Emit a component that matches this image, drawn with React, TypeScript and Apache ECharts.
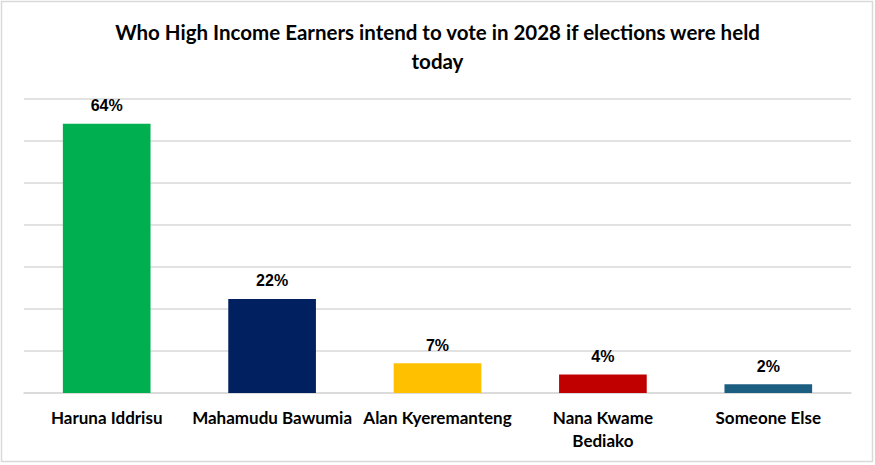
import { useEffect, useRef } from "react";
import * as echarts from "echarts";

const TITLE =
  "Who High Income Earners intend to vote in 2028 if elections were held\ntoday";
const categories = [
  "Haruna Iddrisu",
  "Mahamudu Bawumia",
  "Alan Kyeremanteng",
  "Nana Kwame\nBediako",
  "Someone Else",
];
const values = [64.1, 22.4, 7.1, 4.4, 2.1];
const colors = ["#00B050", "#002060", "#FFC000", "#C00000", "#1B5E82"];

const FONT = "Lato, 'Open Sans', sans-serif";
const VALUE_FONT = "'Liberation Sans', Arial, sans-serif";

export default function App() {
  const ref = useRef<HTMLDivElement | null>(null);

  useEffect(() => {
    document.body.style.margin = "0";
    if (!ref.current) return;
    const chart = echarts.init(ref.current, undefined, { renderer: "svg" });

    chart.setOption({
      animation: false,
      backgroundColor: "#ffffff",
      title: {
        text: TITLE,
        left: "center",
        top: 12,
        textStyle: {
          fontFamily: FONT,
          fontSize: 20.5,
          fontWeight: "bold",
          color: "#000000",
          lineHeight: 29,
        },
      },
      graphic: [
        {
          type: "rect",
          shape: { x: 1.5, y: 1.5, width: 871, height: 460 },
          style: { fill: "none", stroke: "#d9d9d9", lineWidth: 1.5 },
          silent: true,
        },
      ],
      grid: { left: 24, right: 24, top: 99, bottom: 72 },
      xAxis: {
        type: "category",
        data: categories,
        axisTick: { show: false },
        axisLine: { lineStyle: { color: "#d9d9d9", width: 1.5 } },
        axisLabel: {
          color: "#000000",
          fontFamily: FONT,
          fontSize: 17,
          fontWeight: "bold",
          margin: 13,
          lineHeight: 23,
          interval: 0,
        },
      },
      yAxis: {
        type: "value",
        min: 0,
        max: 70,
        interval: 10,
        axisLabel: { show: false },
        axisLine: { show: false },
        axisTick: { show: false },
        splitLine: { lineStyle: { color: "#d9d9d9", width: 1.5 } },
      },
      series: [
        {
          type: "bar",
          barWidth: "53%",
          data: values.map((v, i) => ({
            value: v,
            itemStyle: { color: colors[i] },
          })),
          label: {
            show: true,
            position: "top",
            distance: 10,
            color: "#000000",
            fontFamily: VALUE_FONT,
            fontSize: 16,
            fontWeight: "bold",
            formatter: (p: { value: number }) => `${Math.round(p.value)}%`,
          },
        },
      ],
    });

    return () => chart.dispose();
  }, []);

  return <div ref={ref} style={{ width: 875, height: 465 }} />;
}
